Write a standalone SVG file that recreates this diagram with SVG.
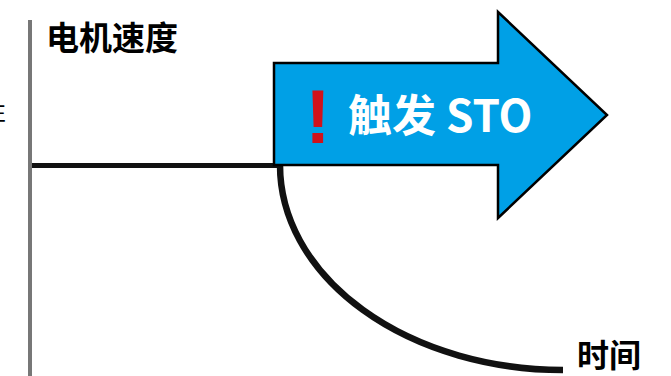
<svg xmlns="http://www.w3.org/2000/svg" width="671" height="376" viewBox="0 0 671 376">
<style>
.lbl{font-family:"Noto Sans CJK SC","Noto Sans",sans-serif;font-weight:bold;fill:#000}
.curve{fill:none;stroke:#111;stroke-width:6.5}
</style>
<rect width="671" height="376" fill="#fff"/>
<g id="axis-y">
<line x1="30" y1="20" x2="30" y2="376" stroke="#777" stroke-width="4"/>
</g>
<g id="clipped-label">
<text x="6" y="120" class="lbl" style="font-weight:normal" font-size="23" text-anchor="end">性</text>
</g>
<g id="speed-label">
<text x="46" y="50" class="lbl" font-size="33">电机速度</text>
</g>
<g id="time-label">
<text x="577" y="367" class="lbl" font-size="32">时间</text>
</g>
<g id="connectors">
<line x1="32" y1="165.5" x2="280" y2="165.5" stroke="#111" stroke-width="5"/>
<path class="curve" d="M280,165 A283,205 0 0 0 563,370"/>
</g>
<g id="sto-arrow">
<polygon points="274,63 498,63 498,12 607,115 498,218 498,165 274,165" fill="#00a0e6" stroke="#000" stroke-width="2.5" stroke-linejoin="miter"/>
<text x="318" y="143" font-family="Liberation Sans,sans-serif" font-weight="bold" font-size="76" fill="#d0121b" text-anchor="middle">!</text>
<text x="348" y="132" font-family="Noto Sans CJK SC,Noto Sans,sans-serif" font-weight="bold" font-size="44" fill="#fff">触发 STO</text>
</g>
</svg>
